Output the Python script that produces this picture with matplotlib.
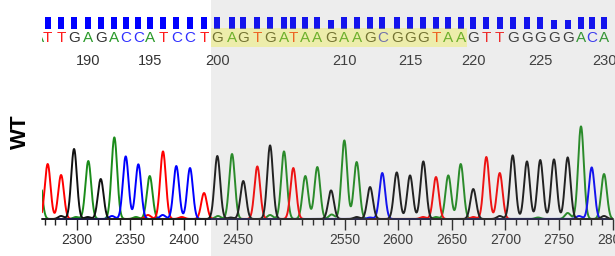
import matplotlib.pyplot as plt
import numpy as np
from matplotlib.patches import Rectangle
from matplotlib.transforms import blended_transform_factory
from matplotlib.ticker import FixedLocator

plt.rcParams['font.family'] = ['Liberation Sans', 'DejaVu Sans']

# Base calls shown in the window (positions 186..230)
first_pos = 186
bases = "ATTGAGACCATCCTGAGTGATAAGAAGCGGGTAAGTTGGGGGACA"

# Scan position of each called peak and its height (trace units)
peak_scan = [2264.8, 2272.9, 2285.4, 2297.5, 2310.8, 2322.4, 2335.1, 2345.7, 2357.5,
             2368.1, 2380.5, 2392.9, 2405.7, 2418.8, 2431.2, 2444.9, 2455.4, 2468.5,
             2480.4, 2493.4, 2502.1, 2513.3, 2524.5, 2537.3, 2549.7, 2561.2, 2573.7,
             2585.1, 2598.6, 2611.0, 2623.4, 2635.2, 2646.7, 2658.3, 2670.0, 2682.2,
             2694.7, 2706.8, 2720.1, 2732.5, 2745.3, 2758.1, 2770.5, 2780.5, 2792.0]
peak_height = [48, 55, 44, 70, 58, 40, 81.6, 62.6, 54.7, 43, 67.6, 53, 51, 26, 63,
               65, 38, 52.6, 73.6, 67.6, 51, 43, 52, 28.6, 78.6, 57, 32, 46, 46.6,
               43.6, 57.6, 42, 43.6, 55, 30, 62, 46, 63.6, 57.6, 59, 59.6, 61.6,
               92.6, 51.6, 45]

# Quality score per base (drawn as the blue bars)
quality = [40] * 23 + [30] + [40] * 16 + [30, 30] + [40] * 3

# Small secondary signals under the main peaks
minor_scan = [2285.4, 2299.3, 2310.3, 2332.9, 2355.3, 2366.5, 2380.2, 2398.0, 2431.8,
              2443.7, 2480.4, 2537.9, 2561.2, 2573.7, 2623.1, 2635.2, 2670.0, 2694.7,
              2730.4, 2758.1, 2768.7, 2792.0]
minor_base = ['G', 'A', 'G', 'C', 'A', 'T', 'C', 'T', 'A',
              'G', 'A', 'A', 'G', 'C', 'T', 'A', 'T', 'G',
              'A', 'A', 'C', 'G']
minor_height = [3, 2, 2, 3, 2, 4, 4, 2, 3,
                1.5, 4, 4.5, 2, 1.5, 2, 2, 2, 3,
                1.5, 6, 3, 3]

pos_labels = [190, 195, 200, 210, 215, 220, 225, 230]
scan_labels = [2300, 2350, 2400, 2450, 2550, 2600, 2650, 2700, 2750, 2800]
scan_minor = [s for s in range(2270, 2801, 10) if s != 2500]

target_first, target_last = 200, 219   # highlighted target sequence
shade_from = 200                        # grey region starts here

trace_colors = {'A': '#1b8c1b', 'C': '#0000ff', 'G': '#111111', 'T': '#ff0000'}
letter_colors = {'A': '#2a9a2a', 'C': '#3030ff', 'G': '#333333', 'T': '#ff1a1a'}

W, H = 615, 256
fig = plt.figure(figsize=(W / 100, H / 100), dpi=100)

xmin, xmax = 2267.6, 2800
left, right = 42 / W, 612.6 / W

# chromatogram axes
ax = fig.add_axes([left, 35 / H, right - left, 100 / H])
ax.set_xlim(xmin, xmax)
ax.set_ylim(-2, 98)

xs = np.linspace(2255, 2805, 4000)
sigma = 2.65
for b in 'ATCG':
    y = np.zeros_like(xs)
    for s, h, c in zip(peak_scan, peak_height, bases):
        if c == b:
            y += h * np.exp(-(xs - s) ** 2 / (2 * sigma ** 2))
    for s, h, c in zip(minor_scan, minor_height, minor_base):
        if c == b:
            y += h * np.exp(-(xs - s) ** 2 / (2 * sigma ** 2))
    ax.plot(xs, y, color=trace_colors[b], lw=1.4)

for side in ['top', 'right', 'left']:
    ax.spines[side].set_visible(False)
ax.spines['bottom'].set_position(('data', 0))
ax.spines['bottom'].set_color('#222222')
ax.spines['bottom'].set_linewidth(1.2)
ax.set_yticks([])
ax.xaxis.set_major_locator(FixedLocator(scan_labels))
ax.xaxis.set_minor_locator(FixedLocator(scan_minor))
ax.set_xticklabels([str(s) for s in scan_labels])
ax.tick_params(axis='x', which='major', length=8, width=1, color='#222222',
               labelsize=10, labelcolor='#333333', pad=2)
ax.tick_params(axis='x', which='minor', length=4.3, width=1, color='#222222')
ax.patch.set_visible(False)

# base call strip above the trace
top = fig.add_axes([left, (H - 70) / H, right - left, 70 / H])
top.set_xlim(xmin, xmax)
top.set_ylim(70, 0)
top.axis('off')

bar_w = 6 / 1.0718
top.bar(peak_scan, [-q * 0.3 for q in quality], bottom=29, width=bar_w,
        color='#0000ff')
for s, c in zip(peak_scan, bases):
    top.text(s, 38, c, color=letter_colors[c], fontsize=11, ha='center',
             va='center', clip_on=True)
for p in pos_labels:
    s = peak_scan[p - first_pos]
    top.text(s, 61, str(p), color='#333333', fontsize=10.5, ha='center',
             va='center', clip_on=False)

i0, i1 = target_first - first_pos, target_last - first_pos
x0 = (peak_scan[i0 - 1] + peak_scan[i0]) / 2
x1 = (peak_scan[i1] + peak_scan[i1 + 1]) / 2
top.add_patch(Rectangle((x0, 28), x1 - x0, 19, color='#ffff00', alpha=0.3,
                        lw=0, zorder=5))

# grey shading over the edited part
k = shade_from - first_pos
xs0 = (peak_scan[k - 1] + peak_scan[k]) / 2
trans = blended_transform_factory(ax.transData, fig.transFigure)
fig.add_artist(Rectangle((xs0, 0), 1000, 1, transform=trans, color='#888888',
                         alpha=0.15, lw=0))

fig.text(20.5 / W, 1 - 131.5 / H, 'WT', rotation=90, fontsize=16,
         fontweight='bold', ha='center', va='center')

fig.savefig('out.png', dpi=100)
